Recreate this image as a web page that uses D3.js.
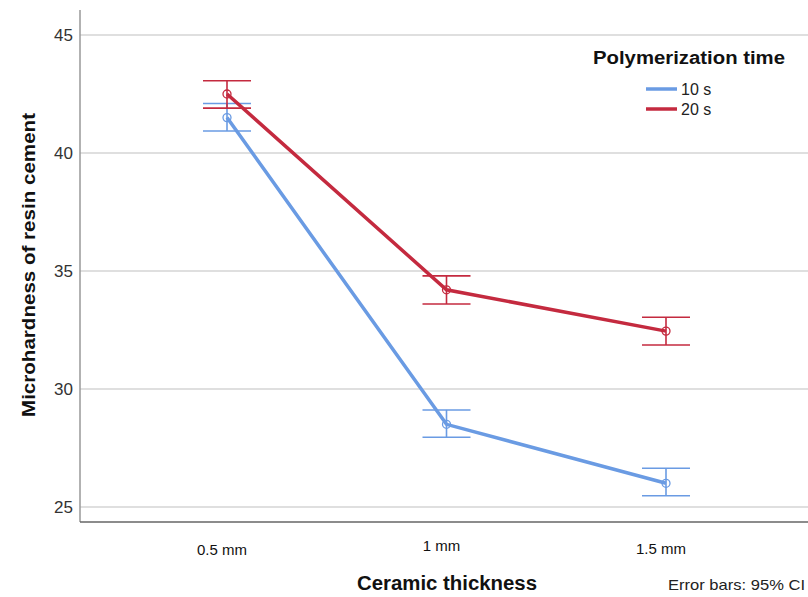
<!DOCTYPE html>
<html>
<head>
<meta charset="utf-8">
<script src="https://cdn.jsdelivr.net/npm/d3@7"></script>
<style>
  body { margin: 0; background: #fff; }
  text { font-family: "Liberation Sans", Arial, sans-serif; }
</style>
</head>
<body>
<script>
// data
var categories = ["0.5 mm", "1 mm", "1.5 mm"];
var seriesNames = ["10 s", "20 s"];
var means10 = [41.5, 28.5, 26.0];
var lower10 = [40.93, 27.95, 25.47];
var upper10 = [42.1, 29.11, 26.64];
var means20 = [42.5, 34.2, 32.45];
var lower20 = [41.9, 33.6, 31.86];
var upper20 = [43.06, 34.79, 33.04];
var yTicks = [25, 30, 35, 40, 45];
var colors = ["#6a9be3", "#c42a3f"];

var width = 808, height = 597;
var svg = d3.select("body").append("svg").attr("width", width).attr("height", height);

// plot frame (window.top is reserved, so use other names)
var plotL = 80, plotR = 808, plotT = 10, plotB = 522;

var yScale = d3.scaleLinear().domain([24.36, 46.06]).range([plotB, plotT]);
var xScale = d3.scalePoint().domain(categories).range([227, 666]);

// grid lines
svg.append("g").selectAll("line").data(yTicks).enter().append("line")
  .attr("x1", plotL).attr("x2", plotR)
  .attr("y1", d => yScale(d)).attr("y2", d => yScale(d))
  .attr("stroke", "#d4d4d4").attr("stroke-width", 1.5);

// y axis
var yAxisG = svg.append("g").attr("transform", `translate(${plotL},0)`)
  .call(d3.axisLeft(yScale).tickValues(yTicks).tickSize(0).tickPadding(7));
yAxisG.select(".domain").remove();
yAxisG.selectAll("text").attr("font-size", 17).attr("fill", "#333")
  .attr("font-family", "Liberation Sans, Arial, sans-serif");

svg.append("line").attr("x1", plotL).attr("x2", plotL).attr("y1", plotT).attr("y2", plotB)
  .attr("stroke", "#999").attr("stroke-width", 1.5);
svg.append("line").attr("x1", plotL).attr("x2", plotR).attr("y1", plotB).attr("y2", plotB)
  .attr("stroke", "#666").attr("stroke-width", 1.5);

// x tick labels (slightly staggered like the original)
var xLabelY = [555, 551, 554];
svg.append("g").selectAll("text").data(categories).enter().append("text")
  .attr("x", d => xScale(d) - 5)
  .attr("y", (d, i) => xLabelY[i])
  .attr("text-anchor", "middle")
  .attr("font-size", 15)
  .attr("fill", "#111")
  .text(d => d);

// axis titles
svg.append("text").attr("x", 447).attr("y", 590).attr("text-anchor", "middle")
  .attr("font-size", 20).attr("font-weight", "bold").attr("fill", "#111")
  .attr("textLength", 180).attr("lengthAdjust", "spacingAndGlyphs")
  .text("Ceramic thickness");

svg.append("text").attr("transform", "translate(35,265) rotate(-90)")
  .attr("text-anchor", "middle").attr("font-size", 19).attr("font-weight", "bold")
  .attr("fill", "#111").attr("textLength", 304).attr("lengthAdjust", "spacingAndGlyphs")
  .text("Microhardness of resin cement");

svg.append("text").attr("x", 805).attr("y", 590).attr("text-anchor", "end")
  .attr("font-size", 15).attr("fill", "#222")
  .attr("textLength", 137).attr("lengthAdjust", "spacingAndGlyphs")
  .text("Error bars: 95% CI");

// series
var series = [
  { name: seriesNames[0], mean: means10, lo: lower10, hi: upper10, color: colors[0] },
  { name: seriesNames[1], mean: means20, lo: lower20, hi: upper20, color: colors[1] }
];

var line = d3.line().x(d => xScale(d.c)).y(d => yScale(d.v));

series.forEach(function (s) {
  var pts = categories.map((c, i) => ({ c: c, v: s.mean[i], lo: s.lo[i], hi: s.hi[i] }));
  var g = svg.append("g");

  // error bars
  g.selectAll(".eb").data(pts).enter().append("line")
    .attr("x1", d => xScale(d.c)).attr("x2", d => xScale(d.c))
    .attr("y1", d => yScale(d.lo)).attr("y2", d => yScale(d.hi))
    .attr("stroke", s.color).attr("stroke-width", 1.6);
  ["lo", "hi"].forEach(function (k) {
    g.selectAll(".cap" + k).data(pts).enter().append("line")
      .attr("x1", d => xScale(d.c) - 24).attr("x2", d => xScale(d.c) + 24)
      .attr("y1", d => yScale(d[k])).attr("y2", d => yScale(d[k]))
      .attr("stroke", s.color).attr("stroke-width", 1.6);
  });

  g.append("path").datum(pts).attr("d", line)
    .attr("fill", "none").attr("stroke", s.color).attr("stroke-width", 3.5);

  g.selectAll("circle").data(pts).enter().append("circle")
    .attr("cx", d => xScale(d.c)).attr("cy", d => yScale(d.v)).attr("r", 4)
    .attr("fill", "none").attr("stroke", s.color).attr("stroke-width", 1.3);
});

// legend
svg.append("text").attr("x", 689).attr("y", 64).attr("text-anchor", "middle")
  .attr("font-size", 18).attr("font-weight", "bold").attr("fill", "#111")
  .attr("textLength", 192).attr("lengthAdjust", "spacingAndGlyphs")
  .text("Polymerization time");

var leg = svg.append("g").selectAll("g").data(series).enter().append("g")
  .attr("transform", (d, i) => `translate(646,${89 + i * 20})`);
leg.append("line").attr("x1", 0).attr("x2", 31).attr("y1", 0).attr("y2", 0)
  .attr("stroke", d => d.color).attr("stroke-width", 3.5);
leg.append("text").attr("x", 35).attr("y", 6).attr("font-size", 16).attr("fill", "#222")
  .text(d => d.name);
</script>
</body>
</html>
